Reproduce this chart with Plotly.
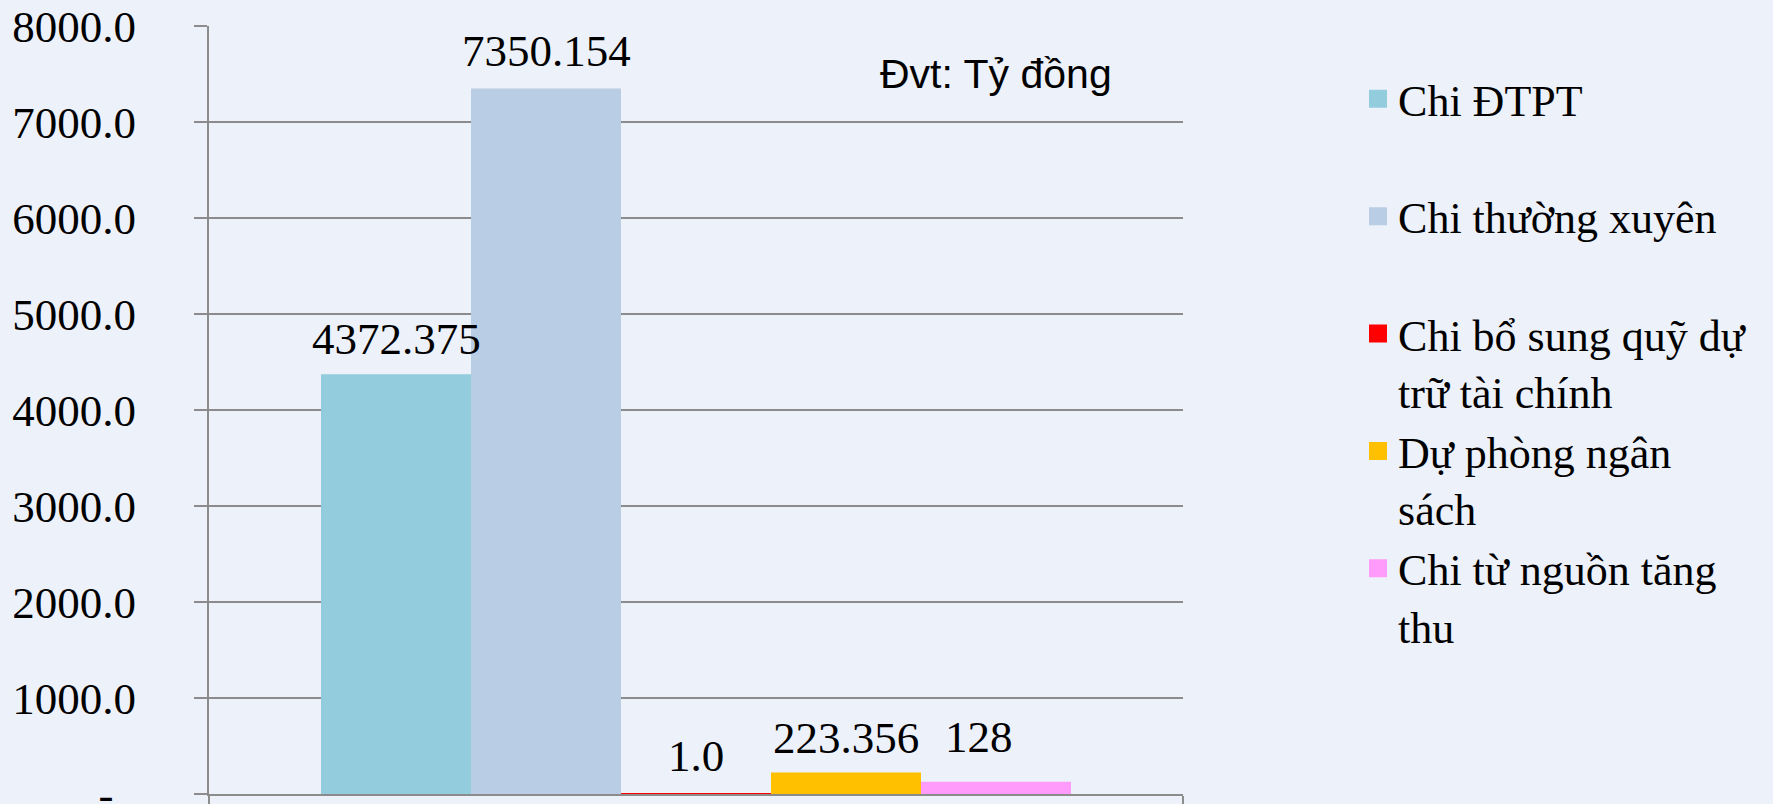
import plotly.graph_objects as go

series_names = [
    "Chi ĐTPT",
    "Chi thường xuyên",
    "Chi bổ sung quỹ dự trữ tài chính",
    "Dự phòng ngân sách",
    "Chi từ nguồn tăng thu",
]
legend_labels = [
    "Chi ĐTPT<br>\u00a0",
    "Chi thường xuyên<br>\u00a0",
    "Chi bổ sung quỹ dự<br>trữ tài chính",
    "Dự phòng ngân<br>sách",
    "Chi từ nguồn tăng<br>thu",
]
values = [4372.375, 7350.154, 1.0, 223.356, 128]
value_labels = ["4372.375", "7350.154", "1.0", "223.356", "128"]
colors = ["#93CDDD", "#B9CDE5", "#FF0000", "#FFC000", "#FF9BFA"]

tick_vals = [0, 1000, 2000, 3000, 4000, 5000, 6000, 7000, 8000]
tick_text = ["-\u00a0\u00a0", "1000.0", "2000.0", "3000.0", "4000.0",
             "5000.0", "6000.0", "7000.0", "8000.0"]

SERIF = "Liberation Serif, Times New Roman, serif"
BG = "#EDF1F9"
GRID = "#8C8C8C"
FS = 45

BARGAP = 0.23
n = len(values)
bw = (1 - BARGAP) / n
centers = [-(1 - BARGAP) / 2 + bw * (i + 0.5) for i in range(n)]

# small label nudges (pixels) to mimic the original placement
label_xshift = [0, 0, 0, 0, -17]
label_yshift = [8, 10, 11, 8, 18]

fig = go.Figure()
for name, v, c, xc in zip(series_names, values, colors, centers):
    fig.add_trace(go.Bar(
        x=[xc], y=[v], name=name, width=bw,
        marker=dict(color=c, line=dict(width=0)),
        showlegend=False, hoverinfo="name+y",
    ))

for i, (lab, c) in enumerate(zip(legend_labels, colors)):
    fig.add_trace(go.Scatter(
        x=[None], y=[None], mode="markers", name=lab,
        marker=dict(symbol="square", size=14, color=c, line=dict(color=c, width=4)),
        legendgroup=f"g{i}", showlegend=True,
    ))

annotations = []
for v, lab, xc, dx, dy in zip(values, value_labels, centers, label_xshift, label_yshift):
    annotations.append(dict(
        x=xc, y=v, xref="x", yref="y", text=lab, showarrow=False,
        xanchor="center", yanchor="bottom", xshift=dx, yshift=dy,
        font=dict(family=SERIF, size=FS, color="black"),
    ))
annotations.append(dict(
    text="Đvt: Tỷ đồng", xref="paper", yref="paper", x=0.687, y=0.938,
    xanchor="left", yanchor="middle", showarrow=False,
    font=dict(family="Liberation Sans, Arial, sans-serif", size=41, color="black"),
))

fig.update_layout(
    width=1773, height=804,
    margin=dict(l=209, r=590, t=26, b=10, autoexpand=False),
    paper_bgcolor=BG, plot_bgcolor=BG,
    barmode="overlay",
    showlegend=True,
    legend=dict(
        x=1.1797, y=0.951, xanchor="left", yanchor="top",
        font=dict(family=SERIF, size=44, color="black"),
        valign="top", tracegroupgap=0, bgcolor="rgba(0,0,0,0)",
        itemclick=False, itemdoubleclick=False,
    ),
    annotations=annotations,
)

fig.update_yaxes(
    range=[0, 8000], tickvals=tick_vals, ticktext=tick_text,
    showgrid=True, gridcolor=GRID, gridwidth=2,
    showline=True, linecolor=GRID, linewidth=2,
    ticks="outside", ticklen=13, tickcolor=GRID, tickwidth=2,
    ticklabelstandoff=49, ticklabeloverflow="allow",
    tickfont=dict(family=SERIF, size=FS, color="black"),
    zeroline=False,
)
fig.update_xaxes(
    range=[-0.5, 0.5], tickvals=[-0.5, 0.5], showticklabels=False,
    showline=True, linecolor=GRID, linewidth=2,
    ticks="outside", ticklen=15, tickcolor=GRID, tickwidth=2,
    showgrid=False, zeroline=False,
)

fig.write_html(
    "out.html",
    config={"displayModeBar": False},
    post_script="document.body.style.margin='0';document.body.style.background='%s';" % BG,
)
